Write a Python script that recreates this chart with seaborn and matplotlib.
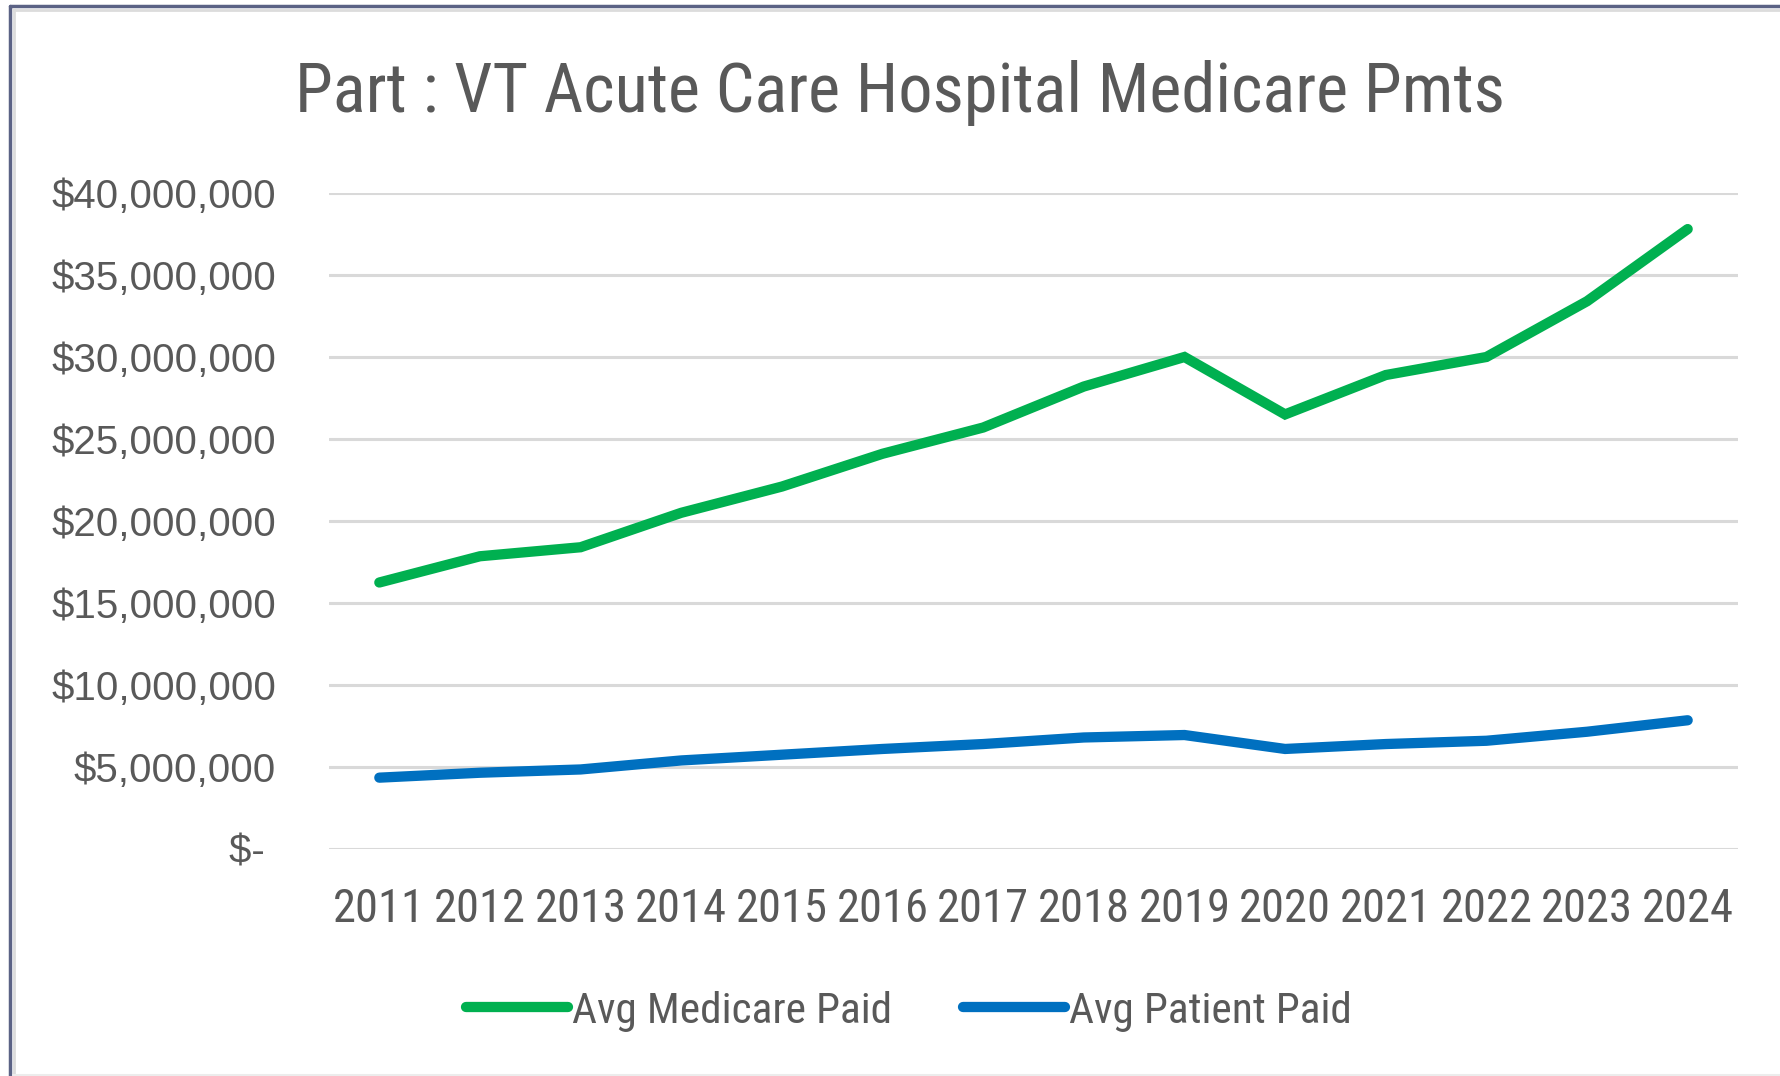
import matplotlib
matplotlib.use("Agg")
import matplotlib.pyplot as plt
import matplotlib.ticker as mticker
from matplotlib import font_manager
from matplotlib.font_manager import FontProperties
from matplotlib.lines import Line2D
import seaborn as sns
import pandas as pd

years = ["2011", "2012", "2013", "2014", "2015", "2016", "2017",
         "2018", "2019", "2020", "2021", "2022", "2023", "2024"]
medicare_paid = [16.25e6, 17.85e6, 18.4e6, 20.5e6, 22.1e6, 24.1e6, 25.7e6,
                 28.2e6, 30.0e6, 26.5e6, 28.9e6, 30.0e6, 33.4e6, 37.8e6]
patient_paid = [4.35e6, 4.65e6, 4.85e6, 5.4e6, 5.75e6, 6.1e6, 6.4e6,
                6.8e6, 6.95e6, 6.1e6, 6.4e6, 6.6e6, 7.15e6, 7.85e6]
series_names = ["Avg Medicare Paid", "Avg Patient Paid"]
series_colors = ["#00b050", "#0070c0"]
title_text = "Part : VT Acute Care Hospital Medicare Pmts"

sns.set_theme(style="white")
plt.rcParams['font.family'] = ['Liberation Sans', 'DejaVu Sans']

# pick a narrow/condensed font file if one is installed
files = [f.fname for f in font_manager.fontManager.ttflist]
def pick_narrow():
    prefs = ["LiberationSansNarrow-Regular", "RobotoCondensed-Regular",
             "NotoSansCondensed-Regular", "OpenSans_Condensed-Regular",
             "OpenSansCondensed", "DejaVuSansCondensed.ttf"]
    for p in prefs:
        for fn in files:
            if p.lower() in fn.lower():
                return fn
    for fn in files:
        low = fn.lower()
        if ("condensed" in low or "narrow" in low) and "bold" not in low \
                and "italic" not in low and "oblique" not in low and "light" not in low:
            return fn
    return None

narrow_file = pick_narrow()
def nfont(size):
    if narrow_file:
        return FontProperties(fname=narrow_file, size=size)
    return FontProperties(family="Roboto", size=size)

df = pd.DataFrame({
    "Year": years * 2,
    "Value": medicare_paid + patient_paid,
    "Series": [series_names[0]] * len(years) + [series_names[1]] * len(years),
})

W, H = 1780, 1076
fig = plt.figure(figsize=(W / 100, H / 100), dpi=100)
fig.patch.set_facecolor("white")
ax = fig.add_axes([329 / W, 1 - 849 / H, (1738 - 329) / W, (849 - 193) / H])

sns.lineplot(data=df, x="Year", y="Value", hue="Series", palette=series_colors,
             linewidth=7.4, ax=ax, legend=False, sort=False,
             solid_capstyle="round", solid_joinstyle="miter")

ax.set_xlim(-0.5, len(years) - 0.5)
ax.set_ylim(0, 40e6)
ax.yaxis.set_major_locator(mticker.MultipleLocator(5e6))

def money(v, pos):
    if abs(v) < 1:
        return "$- "
    return "${:,.0f}".format(v)

ax.yaxis.set_major_formatter(mticker.FuncFormatter(money))
ax.grid(axis="y", color="#d9d9d9", linewidth=2.2)
ax.grid(axis="x", visible=False)
ax.set_axisbelow(True)
for s in ax.spines.values():
    s.set_visible(False)
ax.tick_params(axis="y", length=0, pad=38, labelsize=29, labelcolor="#595959")
ax.tick_params(axis="x", length=0, pad=27, labelcolor="#595959")
ax.set_xticks(range(len(years)))
ax.set_xticklabels(years, fontproperties=nfont(33.5), color="#595959")
ax.set_xlabel("")
ax.set_ylabel("")

fig.text(900 / W, 1 - 93 / H, title_text, ha="center", va="center",
         color="#595959", fontproperties=nfont(49.2))

handles = [Line2D([0], [0], color=c, linewidth=7.4, solid_capstyle="round")
           for c in series_colors]
fig.legend(handles, series_names, loc="center", bbox_to_anchor=(909 / W, 1 - 1011 / H),
           ncol=2, frameon=False, prop=nfont(31.2),
           labelcolor="#595959", handlelength=2.35, handletextpad=0.08,
           columnspacing=1.65)

# chart frame (left/top dark border, faint bottom line)
fig.add_artist(Line2D([10 / W, 10 / W], [0, 1 - 6 / H], color="#5b6285", linewidth=2.5,
                      transform=fig.transFigure))
fig.add_artist(Line2D([10 / W, 1], [1 - 6 / H, 1 - 6 / H], color="#5b6285", linewidth=2.5,
                      transform=fig.transFigure))
fig.add_artist(Line2D([13 / W, 1], [1 - 9.5 / H, 1 - 9.5 / H], color="#dcdcdc", linewidth=2,
                      transform=fig.transFigure))
fig.add_artist(Line2D([13.5 / W, 13.5 / W], [0, 1 - 9 / H], color="#dcdcdc", linewidth=2,
                      transform=fig.transFigure))
fig.add_artist(Line2D([13 / W, 1], [1 / H, 1 / H], color="#ececec", linewidth=1.5,
                      transform=fig.transFigure))

fig.savefig("out.png", dpi=100, facecolor="white")
